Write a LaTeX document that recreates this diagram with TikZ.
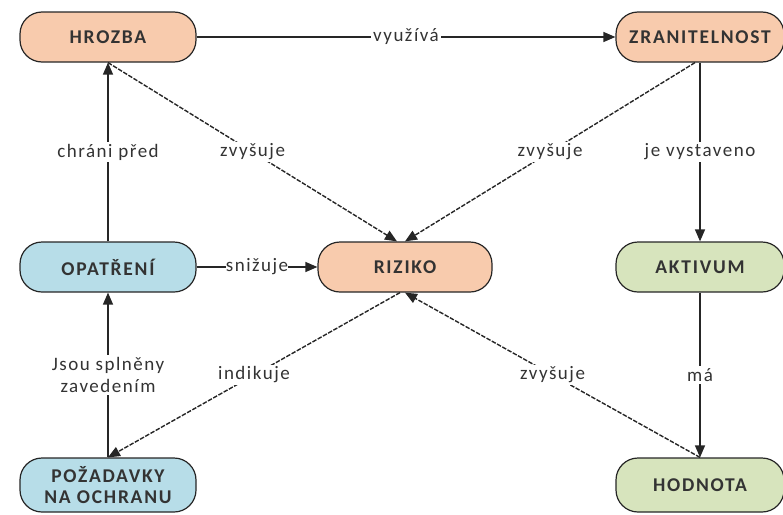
\documentclass[tikz,border=0pt]{standalone}
\usepackage{fontspec}
\setmainfont{Carlito}
\newfontfamily\boxfont[LetterSpace=9]{Carlito}
\newfontfamily\lblfont[LetterSpace=8]{Carlito}
\usepackage{tikz}
\usetikzlibrary{arrows.meta}
\definecolor{peach}{HTML}{F8CBAD}
\definecolor{aqua}{HTML}{B7DDE8}
\definecolor{olive}{HTML}{D7E4BD}

\begin{document}
\begin{tikzpicture}[x=1pt,y=-1pt,
  concept/.style={draw=black!85, line width=1.2pt, rounded corners=22pt,
    minimum width=176pt, minimum height=50pt, align=center,
    font=\boxfont\bfseries\fontsize{19.5}{21}\selectfont, text=black!80},
  rel/.style={-{Triangle[length=12pt,width=10pt]}, line width=1.3pt, black!85},
  weak/.style={rel, line width=1.4pt, dashed, dash pattern=on 4.5pt off 1.5pt},
  lbl/.style={fill=white, inner sep=2pt, align=center,
    font=\lblfont\fontsize{19}{22}\selectfont, text=black!80}]
\useasboundingbox (0,0) rectangle (783,514);
%% concepts
\node[concept, fill=peach] (hrozba) at (108,37) {HROZBA};
\node[concept, fill=peach, minimum width=168pt] (zranitelnost) at (700,37) {ZRANITELNOST};
\node[concept, fill=aqua] (opatreni) at (108,267) {OPATŘENÍ};
\node[concept, fill=peach, minimum width=174pt] (riziko) at (405,267) {RIZIKO};
\node[concept, fill=olive, minimum width=168pt] (aktivum) at (700,267) {AKTIVUM};
\node[concept, fill=aqua, minimum height=54pt] (pozadavky) at (108,485) {POŽADAVKY\\NA OCHRANU};
\node[concept, fill=olive, minimum height=54pt, minimum width=168pt] (hodnota) at (700,485) {HODNOTA};
%% solid relations
\draw[rel] (hrozba) -- node[lbl] {využívá} (zranitelnost);
\draw[rel] (opatreni) -- node[lbl] {chráni před} (hrozba);
\draw[rel] (zranitelnost) -- node[lbl] {je vystaveno} (aktivum);
\draw[rel] (opatreni) -- node[lbl, inner sep=0pt] {snižuje} (riziko);
\draw[rel] (pozadavky) -- node[lbl] {Jsou splněny\\zavedením} (opatreni);
\draw[rel] (aktivum) -- node[lbl] {má} (hodnota);
%% dashed relations
\draw[weak] (hrozba.south) -- node[lbl] {zvyšuje} ([xshift=-8pt]riziko.north);
\draw[weak] ([xshift=-5pt]zranitelnost.south) -- node[lbl] {zvyšuje} (riziko.north);
\draw[weak] ([xshift=-5pt]riziko.south) -- node[lbl] {indikuje} (pozadavky.north);
\draw[weak] (hodnota.north) -- node[lbl] {zvyšuje} (riziko.south);
\end{tikzpicture}
\end{document}
